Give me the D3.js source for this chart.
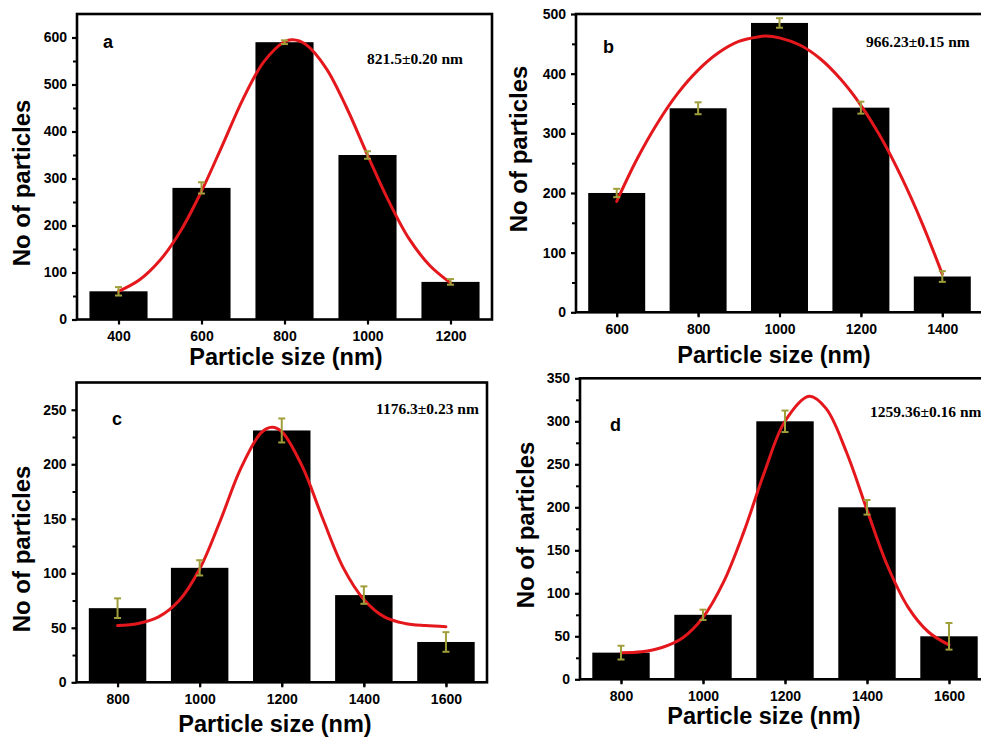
<!DOCTYPE html>
<html>
<head>
<meta charset="utf-8">
<script src="https://cdn.jsdelivr.net/npm/d3@7"></script>
<style>
  html, body { margin: 0; padding: 0; background: #fff; }
  svg { display: block; }
  .tick text { font-family: "Liberation Sans", Arial, sans-serif; font-weight: bold; font-size: 14px; fill: #000; }
</style>
</head>
<body>
<svg id="chart" width="981" height="738"></svg>
<script>
// ---- Panel (a) ----
const sizesA  = [400, 600, 800, 1000, 1200];
const countsA = [60, 280, 590, 350, 80];
const errA    = [9, 12, 4, 8, 6];
const fitXA = [400, 450, 500, 550, 600, 650, 700, 750, 800, 820, 850, 900, 950, 1000, 1050, 1100, 1150, 1200];
const fitYA = [60, 84, 126, 189, 273, 370, 469, 548, 591, 595, 586, 535, 450, 350, 254, 172, 115, 78];
const xTicksA = [400, 600, 800, 1000, 1200];
const yTicksA = [0, 100, 200, 300, 400, 500, 600];
const noteA = "821.5±0.20 nm";

// ---- Panel (b) ----
const sizesB  = [600, 800, 1000, 1200, 1400];
const countsB = [200, 342, 485, 343, 60];
const errB    = [7, 10, 8, 10, 9];
const fitXB = [600, 650, 700, 750, 800, 850, 900, 950, 966, 1000, 1050, 1100, 1150, 1200, 1250, 1300, 1350, 1400];
const fitYB = [186, 257, 317, 367, 406, 435, 454, 462, 463, 460, 448, 425, 391, 347, 292, 226, 150, 64];
const xTicksB = [600, 800, 1000, 1200, 1400];
const yTicksB = [0, 100, 200, 300, 400, 500];
const noteB = "966.23±0.15 nm";

// ---- Panel (c) ----
const sizesC  = [800, 1000, 1200, 1400, 1600];
const countsC = [68, 105, 231, 80, 37];
const errC    = [9, 7, 11, 8, 9];
const fitXC = [800, 850, 900, 950, 1000, 1050, 1100, 1150, 1176, 1200, 1250, 1300, 1350, 1400, 1450, 1500, 1550, 1600];
const fitYC = [52, 54, 60, 75, 104, 148, 196, 229, 234, 230, 198, 150, 105, 76, 60, 54, 52, 51];
const xTicksC = [800, 1000, 1200, 1400, 1600];
const yTicksC = [0, 50, 100, 150, 200, 250];
const noteC = "1176.3±0.23 nm";

// ---- Panel (d) ----
const sizesD  = [800, 1000, 1200, 1400, 1600];
const countsD = [31, 75, 300, 200, 50];
const errD    = [8, 6, 12.5, 8.5, 15.5];
const fitXD = [800, 850, 900, 950, 1000, 1050, 1100, 1150, 1200, 1259, 1300, 1350, 1400, 1450, 1500, 1550, 1600];
const fitYD = [31, 32, 37, 48, 72, 113, 172, 241, 300, 329, 315, 264, 197, 132, 84, 55, 40];
const xTicksD = [800, 1000, 1200, 1400, 1600];
const yTicksD = [0, 50, 100, 150, 200, 250, 300, 350];
const noteD = "1259.36±0.16 nm";

const xTitle = "Particle size (nm)";
const yTitle = "No of particles";

const BIN_HALF = 70;   // bar half-width in nm
const RED = "#e3171c";
const ERR = "#a09f3a";
const SANS = '"Liberation Sans", Arial, sans-serif';
const SERIF = '"Liberation Serif", "Times New Roman", serif';

const panels = [
  { id: "a", sizes: sizesA, counts: countsA, err: errA, fx: fitXA, fy: fitYA, xt: xTicksA, yt: yTicksA, note: noteA,
    xd: [300, 1300], yd: [0, 650], xr: [77, 492], yr: [319.5, 14], minorY: 50,
    yTitlePos: [30, 183], xTitlePos: [286, 365], letterPos: [103, 48], notePos: [367, 64] },
  { id: "b", sizes: sizesB, counts: countsB, err: errB, fx: fitXB, fy: fitYB, xt: xTicksB, yt: yTicksB, note: noteB,
    xd: [500, 1500], yd: [0, 500], xr: [576, 983], yr: [312.3, 14], minorY: 50,
    yTitlePos: [527, 149], xTitlePos: [774, 363], letterPos: [603, 53], notePos: [866, 47] },
  { id: "c", sizes: sizesC, counts: countsC, err: errC, fx: fitXC, fy: fitYC, xt: xTicksC, yt: yTicksC, note: noteC,
    xd: [700, 1700], yd: [0, 275], xr: [76.5, 487], yr: [682.3, 382.5], minorY: 25,
    yTitlePos: [30, 549], xTitlePos: [275, 732], letterPos: [112, 425], notePos: [376, 414] },
  { id: "d", sizes: sizesD, counts: countsD, err: errD, fx: fitXD, fy: fitYD, xt: xTicksD, yt: yTicksD, note: noteD,
    xd: [700, 1700], yd: [0, 350], xr: [580, 990], yr: [679.3, 378.3], minorY: 25,
    yTitlePos: [534, 525], xTitlePos: [764, 724], letterPos: [610, 431], notePos: [870, 417] }
];

const svg = d3.select("#chart");

panels.forEach(p => {
  const x = d3.scaleLinear().domain(p.xd).range(p.xr);
  const y = d3.scaleLinear().domain(p.yd).range(p.yr);
  const g = svg.append("g").attr("class", "panel-" + p.id);
  const [x0, x1] = p.xr, [yb, yt] = p.yr;

  // bars
  g.selectAll("rect.bar").data(p.sizes).join("rect")
    .attr("class", "bar")
    .attr("x", (d) => x(d - BIN_HALF))
    .attr("width", (d) => x(d + BIN_HALF) - x(d - BIN_HALF))
    .attr("y", (d, i) => y(p.counts[i]))
    .attr("height", (d, i) => y(0) - y(p.counts[i]))
    .attr("fill", "#000");

  // fitted distribution curve
  const line = d3.line().x((d) => x(d[0])).y((d) => y(d[1])).curve(d3.curveCatmullRom.alpha(0.5));
  g.append("path")
    .datum(p.fx.map((v, i) => [v, p.fy[i]]))
    .attr("d", line)
    .attr("fill", "none")
    .attr("stroke", RED)
    .attr("stroke-width", 3)
    .attr("stroke-linecap", "round");

  // error bars
  const eb = g.selectAll("g.err").data(p.sizes).join("g").attr("class", "err")
    .attr("stroke", ERR).attr("stroke-width", 2).attr("fill", "none");
  eb.append("line")
    .attr("x1", (d) => x(d)).attr("x2", (d) => x(d))
    .attr("y1", (d, i) => y(p.counts[i] - p.err[i]))
    .attr("y2", (d, i) => y(p.counts[i] + p.err[i]));
  eb.append("line")
    .attr("x1", (d) => x(d) - 3.5).attr("x2", (d) => x(d) + 3.5)
    .attr("y1", (d, i) => y(p.counts[i] + p.err[i]))
    .attr("y2", (d, i) => y(p.counts[i] + p.err[i]));
  eb.append("line")
    .attr("x1", (d) => x(d) - 3.5).attr("x2", (d) => x(d) + 3.5)
    .attr("y1", (d, i) => y(p.counts[i] - p.err[i]))
    .attr("y2", (d, i) => y(p.counts[i] - p.err[i]));

  // minor ticks
  const minorX = d3.range(p.xd[0] + 100, p.xd[1], 200);
  const minorY = d3.range(p.yd[0] + p.minorY, p.yd[1], p.minorY * 2);
  g.append("g").attr("transform", `translate(0,${yb})`)
    .call(d3.axisBottom(x).tickValues(minorX).tickSize(4).tickFormat(""))
    .call(a => a.select(".domain").remove())
    .call(a => a.selectAll("line").attr("stroke-width", 2));
  g.append("g").attr("transform", `translate(${x0},0)`)
    .call(d3.axisLeft(y).tickValues(minorY).tickSize(4).tickFormat(""))
    .call(a => a.select(".domain").remove())
    .call(a => a.selectAll("line").attr("stroke-width", 2));

  // major axes
  g.append("g").attr("transform", `translate(0,${yb})`)
    .call(d3.axisBottom(x).tickValues(p.xt).tickSize(5).tickPadding(7).tickFormat(d3.format("d")))
    .call(a => a.select(".domain").remove())
    .call(a => a.selectAll("line").attr("stroke-width", 2.2));
  g.append("g").attr("transform", `translate(${x0},0)`)
    .call(d3.axisLeft(y).tickValues(p.yt).tickSize(5).tickPadding(5).tickFormat(d3.format("d")))
    .call(a => a.select(".domain").remove())
    .call(a => a.selectAll("line").attr("stroke-width", 2.2));

  // frame
  g.append("rect")
    .attr("x", x0).attr("y", yt)
    .attr("width", x1 - x0).attr("height", yb - yt)
    .attr("fill", "none").attr("stroke", "#000").attr("stroke-width", 2.6);

  // titles
  g.append("text")
    .attr("transform", `translate(${p.yTitlePos[0]},${p.yTitlePos[1]}) rotate(-90)`)
    .attr("text-anchor", "middle")
    .attr("font-family", SANS).attr("font-weight", "bold").attr("font-size", 24)
    .text(yTitle);
  g.append("text")
    .attr("x", p.xTitlePos[0]).attr("y", p.xTitlePos[1])
    .attr("text-anchor", "middle")
    .attr("font-family", SANS).attr("font-weight", "bold").attr("font-size", 23.5)
    .text(xTitle);

  // panel letter
  g.append("text")
    .attr("x", p.letterPos[0]).attr("y", p.letterPos[1])
    .attr("font-family", SANS).attr("font-weight", "bold").attr("font-size", 18)
    .text(p.id);

  // mean size annotation
  g.append("text")
    .attr("x", p.notePos[0]).attr("y", p.notePos[1])
    .attr("font-family", SERIF).attr("font-weight", "bold").attr("font-size", 15.5)
    .text(p.note);
});
</script>
</body>
</html>
